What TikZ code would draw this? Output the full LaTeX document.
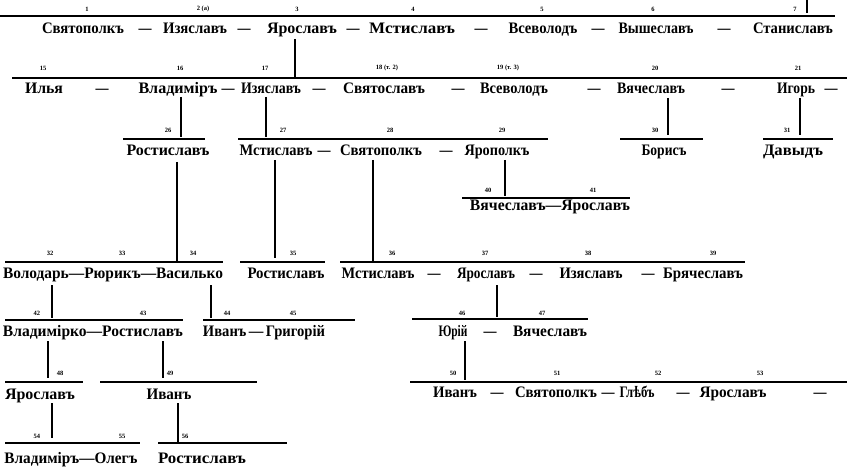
\documentclass[tikz,border=0pt]{standalone}
\usepackage{graphicx}
\usepackage{fontspec}
\setmainfont{Liberation Serif}
\newcommand\nmw[2]{\resizebox{#1pt}{\height}{#2}}
\newcommand\dsh{\resizebox{13pt}{\height}{—}}
\begin{document}
\begin{tikzpicture}[x=1pt,y=-1pt,
  nm/.style={font=\bfseries\fontsize{16}{16}\selectfont,inner sep=0pt,anchor=base},
  num/.style={font=\bfseries\fontsize{6.5}{6.5}\selectfont,inner sep=0pt},
  rule/.style={line width=1.3pt},
  link/.style={line width=1.3pt}]
\useasboundingbox (0,0) rectangle (847,468);
% ---------- row 1
\foreach \t/\x/\n in {1/87/k1,2 (а)/203/k2,3/297/k3,4/413/k4,5/542/k5,6/653/k6,7/795/k7}
  \node[num] (\n) at (\x,9) {\t};
\draw[rule] (0,16) -- (835,16);
\node[nm] (a1) at (83,34) {\nmw{82}{Святополкъ}};
\node[nm] (a1d) at (145,34) {\dsh};
\node[nm] (a2) at (195,34) {\nmw{64}{Изяславъ}};
\node[nm] (a2d) at (244,34) {\dsh};
\node[nm] (a3) at (302,34) {\nmw{70}{Ярославъ}};
\node[nm] (a3d) at (353,34) {\dsh};
\node[nm] (a4) at (412,34) {\nmw{86}{Мстиславъ}};
\node[nm] (a4d) at (481,34) {\dsh};
\node[nm] (a5) at (543,34) {\nmw{69}{Всеволодъ}};
\node[nm] (a5d) at (598,34) {\dsh};
\node[nm] (a6) at (656,34) {\nmw{75}{Вышеславъ}};
\node[nm] (a6d) at (724,34) {\dsh};
\node[nm] (a7) at (793,34) {\nmw{80}{Станиславъ}};
\draw[link] (807,0) -- (807,13);
\draw[link] (295,39) -- (295,78);
% ---------- row 2
\foreach \t/\x/\n in {15/43/k15,16/180/k16,17/265/k17,18 (т. 2)/387/k18,19 (т. 3)/508/k19,20/655/k20,21/798/k21}
  \node[num] (\n) at (\x,68) {\t};
\draw[rule] (12,78) -- (847,78);
\node[nm] (b15) at (44,94) {\nmw{38}{Илья}};
\node[nm] (b15d) at (102,94) {\dsh};
\node[nm] (b16) at (178,94) {\nmw{79}{Владиміръ}};
\node[nm] (b16d) at (228,94) {\dsh};
\node[nm] (b17) at (271,94) {\nmw{60}{Изяславъ}};
\node[nm] (b17d) at (319,94) {\dsh};
\node[nm] (b18) at (384,94) {\nmw{82}{Святославъ}};
\node[nm] (b18d) at (458,94) {\dsh};
\node[nm] (b19) at (514,94) {\nmw{68}{Всеволодъ}};
\node[nm] (b19d) at (594,94) {\dsh};
\node[nm] (b20) at (651,94) {\nmw{68}{Вячеславъ}};
\node[nm] (b20d) at (728,94) {\dsh};
\node[nm] (b21) at (796,94) {\nmw{38}{Игорь}};
\node[nm] (b21d) at (831,94) {\dsh};
\draw[link] (181,97) -- (181,137);
\draw[link] (266,97) -- (266,137);
\draw[link] (668,98) -- (668,135);
\draw[link] (800,98) -- (800,135);
% ---------- row 3
\foreach \t/\x/\n in {26/168/k26,27/283/k27,28/390/k28,29/502/k29,30/655/k30,31/787/k31}
  \node[num] (\n) at (\x,130) {\t};
\draw[rule] (123,139) -- (205,139);
\draw[rule] (238,139) -- (548,139);
\draw[rule] (620,139) -- (703,139);
\draw[rule] (763,139) -- (833,139);
\node[nm] (c26) at (168,156) {\nmw{83}{Ростиславъ}};
\node[nm] (c27) at (276,156) {\nmw{73}{Мстиславъ}};
\node[nm] (c27d) at (324,156) {\dsh};
\node[nm] (c28) at (381,156) {\nmw{82}{Святополкъ}};
\node[nm] (c28d) at (446,156) {\dsh};
\node[nm] (c29) at (497,156) {\nmw{65}{Ярополкъ}};
\node[nm] (c30) at (664,156) {\nmw{45}{Борисъ}};
\node[nm] (c31) at (793,156) {\nmw{60}{Давыдъ}};
\draw[link] (177,162) -- (177,262);
\draw[link] (275,160) -- (275,258);
\draw[link] (373,160) -- (373,262);
\draw[link] (505,160) -- (505,196);
% ---------- row 3b
\node[num] (k40) at (488,190) {40};
\node[num] (k41) at (593,190) {41};
\draw[rule] (462,198) -- (630,198);
\node[nm] (c40) at (550,211) {\nmw{160}{Вячеславъ—Ярославъ}};
% ---------- row 4
\foreach \t/\x/\n in {32/50/k32,33/122/k33,34/193/k34,35/293/k35,36/392/k36,37/485/k37,38/588/k38,39/713/k39}
  \node[num] (\n) at (\x,253) {\t};
\draw[rule] (5,262) -- (223,262);
\draw[rule] (240,262) -- (325,262);
\draw[rule] (340,262) -- (745,262);
\node[nm] (d32) at (113,278) {\nmw{220}{Володарь—Рюрикъ—Василько}};
\node[nm] (d35) at (286,278) {\nmw{77}{Ростиславъ}};
\node[nm] (d36) at (378,278) {\nmw{73}{Мстиславъ}};
\node[nm] (d36d) at (434,278) {\dsh};
\node[nm] (d37) at (486,278) {\nmw{58}{Ярославъ}};
\node[nm] (d37d) at (536,278) {\dsh};
\node[nm] (d38) at (591,278) {\nmw{63}{Изяславъ}};
\node[nm] (d38d) at (648,278) {\dsh};
\node[nm] (d39) at (703,278) {\nmw{80}{Брячеславъ}};
\draw[link] (52,285) -- (52,318);
\draw[link] (211,285) -- (211,318);
\draw[link] (497,285) -- (497,317);
% ---------- row 5
\foreach \t/\x/\n in {42/37/k42,43/143/k43,44/227/k44,45/293/k45,46/462/k46,47/542/k47}
  \node[num] (\n) at (\x,313) {\t};
\draw[rule] (5,320) -- (183,320);
\draw[rule] (203,320) -- (355,320);
\draw[rule] (412,319) -- (588,319);
\node[nm] (e42) at (93,336) {\nmw{180}{Владимірко—Ростиславъ}};
\node[nm] (e44) at (264,336) {\nmw{122}{Иванъ\,—\,Григорій}};
\node[nm] (e46) at (453,336) {\nmw{29}{Юрій}};
\node[nm] (e46d) at (490,336) {\dsh};
\node[nm] (e47) at (550,336) {\nmw{74}{Вячеславъ}};
\draw[link] (48,341) -- (48,378);
\draw[link] (163,341) -- (163,378);
\draw[link] (465,341) -- (465,380);
% ---------- row 6
\foreach \t/\x/\n in {48/60/k48,49/170/k49,50/453/k50,51/557/k51,52/658/k52,53/760/k53}
  \node[num] (\n) at (\x,373) {\t};
\draw[rule] (5,382) -- (83,382);
\draw[rule] (100,382) -- (257,382);
\draw[rule] (410,382) -- (847,382);
\node[nm] (f48) at (40,399) {\nmw{70}{Ярославъ}};
\node[nm] (f49) at (169,399) {\nmw{45}{Иванъ}};
\node[nm] (f50) at (455,397) {\nmw{44}{Иванъ}};
\node[nm] (f50d) at (497,397) {\dsh};
\node[nm] (f51) at (556,397) {\nmw{82}{Святополкъ}};
\node[nm] (f51d) at (608,397) {\dsh};
\node[nm] (f52) at (637,397) {\nmw{35}{Глѣбъ}};
\node[nm] (f52d) at (683,397) {\dsh};
\node[nm] (f53) at (733,397) {\nmw{67}{Ярославъ}};
\node[nm] (f53d) at (820,397) {\dsh};
\draw[link] (52,403) -- (52,438);
\draw[link] (178,403) -- (178,442);
% ---------- row 7
\foreach \t/\x/\n in {54/37/k54,55/122/k55,56/185/k56}
  \node[num] (\n) at (\x,436) {\t};
\draw[rule] (5,443) -- (140,443);
\draw[rule] (158,443) -- (287,443);
\node[nm] (g54) at (71,463) {\nmw{133}{Владиміръ—Олегъ}};
\node[nm] (g56) at (202,463) {\nmw{88}{Ростиславъ}};
\end{tikzpicture}
\end{document}
